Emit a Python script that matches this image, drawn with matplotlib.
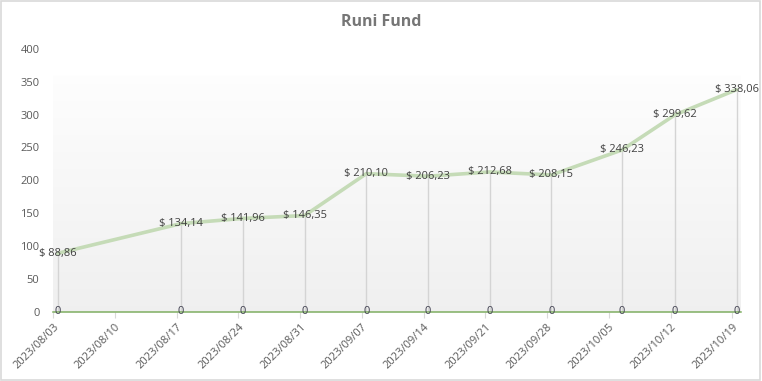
import datetime
import numpy as np
import matplotlib.pyplot as plt
import matplotlib.dates as mdates
from matplotlib.patches import Rectangle

plt.rcParams['font.family'] = ['Open Sans', 'DejaVu Sans']

# Fund values, one per reading date
dates = ['2023-08-03', '2023-08-17', '2023-08-24', '2023-08-31', '2023-09-07', '2023-09-14',
         '2023-09-21', '2023-09-28', '2023-10-06', '2023-10-12', '2023-10-19']
values = [88.86, 134.14, 141.96, 146.35, 210.10, 206.23, 212.68, 208.15, 246.23, 299.62, 338.06]
zero_values = [0] * len(dates)
label_texts = ['$ ' + f'{v:.2f}'.replace('.', ',') for v in values]

tick_dates = ['2023-08-03', '2023-08-10', '2023-08-17', '2023-08-24', '2023-08-31', '2023-09-07',
              '2023-09-14', '2023-09-21', '2023-09-28', '2023-10-05', '2023-10-12', '2023-10-19']
y_ticks = [0, 50, 100, 150, 200, 250, 300, 350, 400]

to_num = lambda s: mdates.date2num(datetime.datetime.strptime(s, '%Y-%m-%d'))
xs = np.array([to_num(d) for d in dates]) + 0.5  # points sit in the middle of the day slot
ticks = [to_num(d) for d in tick_dates]

fig = plt.figure(figsize=(7.62, 3.81), dpi=100)
ax = fig.add_axes([0.070, 0.182, 0.9025, 0.6895])

x0, x1 = ticks[0], ticks[-1] + 1
ax.set_xlim(x0, x1)
ax.set_ylim(0, 400)

# gradient plot area: white at top, light gray at bottom
grad = np.linspace(1.0, 0.94, 256).reshape(-1, 1)
grad = np.clip(grad + np.where(np.linspace(0, 1, 256) < 0.1, 0.06, 0).reshape(-1, 1), 0, 1)
ax.imshow(np.dstack([grad, grad, grad]), extent=[x0, x1, 0, 400], aspect='auto', zorder=0)

# drop lines
ax.vlines(xs, 0, values, color='#d4d4d4', lw=1, zorder=1)

ax.plot(xs, values, color='#c5dbb7', lw=2.6, solid_capstyle='round', zorder=2)
ax.plot([x0, x1], [0, 0], color='#7fae62', lw=1.1, zorder=3, clip_on=False)

for x, v, t in zip(xs, values, label_texts):
    ax.text(x, v, t, ha='center', va='center', fontsize=8, color='#404040', zorder=4)
for x, v in zip(xs, zero_values):
    ax.text(x, v, '0', ha='center', va='center', fontsize=8, color='#404050', zorder=4)

ax.set_xticks(ticks)
ax.set_xticklabels([d.replace('-', '/') for d in tick_dates], rotation=45, ha='right',
                   rotation_mode='anchor', fontsize=8, color='#595959')
ax.tick_params(axis='x', length=4, color='#d9d9d9', pad=3)
ax.set_yticks(y_ticks)
ax.set_yticklabels([str(v) for v in y_ticks], fontsize=8, color='#595959')
ax.tick_params(axis='y', length=0, pad=10)

for s in ax.spines.values():
    s.set_visible(False)

fig.text(0.5, 0.942, 'Runi Fund', ha='center', va='center', fontsize=11.5,
         fontweight='bold', color='#767676')

fig.patches.append(Rectangle((0.001, 0.002), 0.997, 0.995, transform=fig.transFigure,
                             fill=False, edgecolor='#d9d9d9', lw=1.2))

plt.savefig('out.png', dpi=100)
